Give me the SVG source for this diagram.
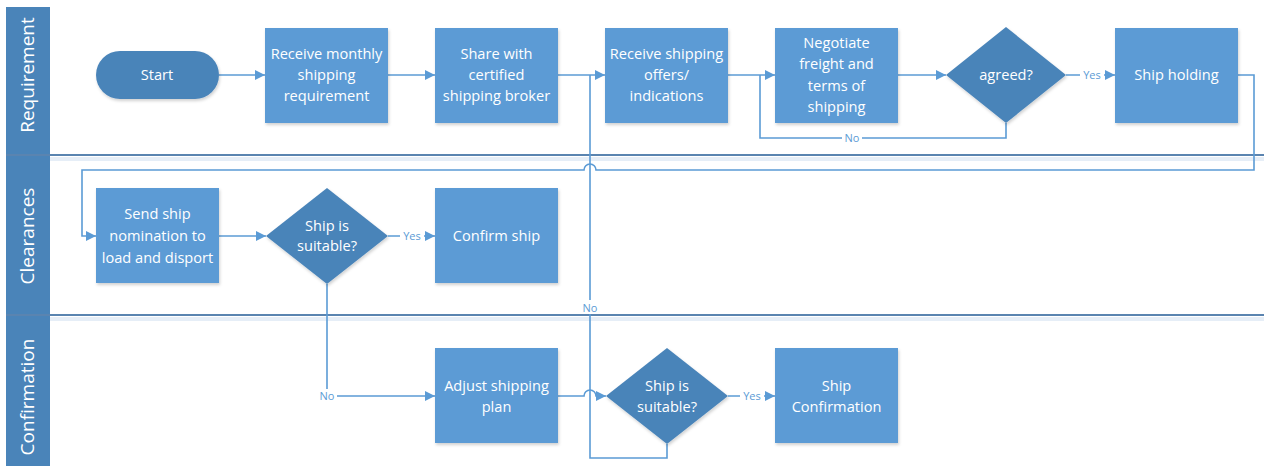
<svg xmlns="http://www.w3.org/2000/svg" width="1264" height="466" viewBox="0 0 1264 466">
<defs>
<marker id="arr" viewBox="0 0 10 10" refX="10" refY="5" markerWidth="10" markerHeight="10" markerUnits="userSpaceOnUse" orient="auto">
<path d="M0,0 L10,5 L0,10 z" fill="#5b9bd5"/>
</marker>
<filter id="sh" x="-10%" y="-10%" width="130%" height="130%">
<feDropShadow dx="1" dy="2" stdDeviation="1.5" flood-color="#000" flood-opacity="0.18"/>
</filter>
</defs>
<style>
.box{fill:#5b9bd5;filter:url(#sh)}
.dark{fill:#4a84b9;filter:url(#sh)}
.t{font-family:"Open Sans","Noto Sans",sans-serif;font-size:14.6px;fill:#ffffff;text-anchor:middle}
.lane{font-family:"Open Sans","Noto Sans",sans-serif;font-size:19px;fill:#ffffff;text-anchor:middle}
.c{fill:none;stroke:#5b9bd5;stroke-width:1.6}
.ca{fill:none;stroke:#5b9bd5;stroke-width:1.6;marker-end:url(#arr)}
.lbl{font-family:"Open Sans","Noto Sans",sans-serif;font-size:11px;fill:#5b9bd5;text-anchor:middle}
.sep{stroke:#5a84b0;stroke-width:2}
</style>
<rect width="1264" height="466" fill="#ffffff"/>
<g id="lanes">
<rect x="6" y="7" width="44" height="459" fill="#4a84b9"/>
<rect x="50" y="157" width="1214" height="4" fill="#e6eef7"/>
<rect x="50" y="317" width="1214" height="4" fill="#e6eef7"/>
<line class="sep" x1="6" y1="155" x2="1264" y2="155"/>
<line class="sep" x1="6" y1="315" x2="1264" y2="315"/>
<text class="lane" transform="translate(34,75) rotate(-90)">Requirement</text>
<text class="lane" transform="translate(34,236) rotate(-90)">Clearances</text>
<text class="lane" transform="translate(34,397) rotate(-90)">Confirmation</text>
</g>
<g id="connectors">
<line class="ca" x1="219" y1="75" x2="265" y2="75"/>
<line class="ca" x1="388" y1="75" x2="435" y2="75"/>
<line class="ca" x1="558" y1="75" x2="605" y2="75"/>
<line class="ca" x1="728" y1="75" x2="775" y2="75"/>
<line class="ca" x1="898" y1="75" x2="946" y2="75"/>
<line class="ca" x1="1066" y1="75" x2="1115" y2="75"/>
<path class="c" d="M1006,123 V138 H760 V75"/>
<path class="ca" d="M1238,75 H1254 V170 H596 A6,6 0 0 0 584,170 H82 V236 H96"/>
<line class="ca" x1="219" y1="236" x2="266" y2="236"/>
<line class="ca" x1="388" y1="236" x2="435" y2="236"/>
<path class="ca" d="M327,284 V396 H435"/>
<path class="ca" d="M558,396 H584 A6,6 0 0 1 596,396 H606"/>
<line class="ca" x1="728" y1="396" x2="775" y2="396"/>
<path class="c" d="M667,444 V458 H590 V75"/>
<rect x="842" y="131" width="20" height="14" fill="#ffffff"/>
<text class="lbl" x="852" y="142">No</text>
<rect x="1080" y="68" width="24" height="14" fill="#ffffff"/>
<text class="lbl" x="1092" y="79">Yes</text>
<rect x="400" y="229" width="24" height="14" fill="#ffffff"/>
<text class="lbl" x="412" y="240">Yes</text>
<rect x="317" y="389" width="20" height="14" fill="#ffffff"/>
<text class="lbl" x="327" y="400">No</text>
<rect x="580" y="300" width="20" height="14" fill="#ffffff"/>
<text class="lbl" x="590" y="312">No</text>
<rect x="740" y="389" width="24" height="14" fill="#ffffff"/>
<text class="lbl" x="752" y="400">Yes</text>
</g>
<g id="start">
<rect class="dark" x="96" y="51" width="123" height="48" rx="24"/>
<text class="t" x="157" y="80">Start</text>
</g>
<g id="receive-monthly">
<rect class="box" x="265" y="28" width="123" height="95"/>
<text class="t" x="326.5" y="59">Receive monthly</text>
<text class="t" x="326.5" y="80">shipping</text>
<text class="t" x="326.5" y="101">requirement</text>
</g>
<g id="share-broker">
<rect class="box" x="435" y="28" width="123" height="95"/>
<text class="t" x="496.5" y="59">Share with</text>
<text class="t" x="496.5" y="80">certified</text>
<text class="t" x="496.5" y="101">shipping broker</text>
</g>
<g id="receive-offers">
<rect class="box" x="605" y="28" width="123" height="95"/>
<text class="t" x="666.5" y="59">Receive shipping</text>
<text class="t" x="666.5" y="80">offers/</text>
<text class="t" x="666.5" y="101">indications</text>
</g>
<g id="negotiate">
<rect class="box" x="775" y="28" width="123" height="95"/>
<text class="t" x="836.5" y="48">Negotiate</text>
<text class="t" x="836.5" y="69">freight and</text>
<text class="t" x="836.5" y="91">terms of</text>
<text class="t" x="836.5" y="112">shipping</text>
</g>
<g id="agreed">
<polygon class="dark" points="1006,27 1066,75 1006,123 946,75"/>
<text class="t" x="1006" y="80">agreed?</text>
</g>
<g id="ship-holding">
<rect class="box" x="1115" y="28" width="123" height="95"/>
<text class="t" x="1176.5" y="80">Ship holding</text>
</g>
<g id="send-nomination">
<rect class="box" x="96" y="188" width="123" height="95"/>
<text class="t" x="157.5" y="219">Send ship</text>
<text class="t" x="157.5" y="241">nomination to</text>
<text class="t" x="157.5" y="263">load and disport</text>
</g>
<g id="suitable-1">
<polygon class="dark" points="327,188 388,236 327,284 266,236"/>
<text class="t" x="327" y="231">Ship is</text>
<text class="t" x="327" y="251">suitable?</text>
</g>
<g id="confirm-ship">
<rect class="box" x="435" y="188" width="123" height="95"/>
<text class="t" x="496.5" y="241">Confirm ship</text>
</g>
<g id="adjust-plan">
<rect class="box" x="435" y="348" width="123" height="95"/>
<text class="t" x="496.5" y="391">Adjust shipping</text>
<text class="t" x="496.5" y="412">plan</text>
</g>
<g id="suitable-2">
<polygon class="dark" points="667,348 728,396 667,444 606,396"/>
<text class="t" x="667" y="391">Ship is</text>
<text class="t" x="667" y="412">suitable?</text>
</g>
<g id="ship-confirmation">
<rect class="box" x="775" y="348" width="123" height="95"/>
<text class="t" x="836.5" y="391">Ship</text>
<text class="t" x="836.5" y="412">Confirmation</text>
</g>
</svg>
